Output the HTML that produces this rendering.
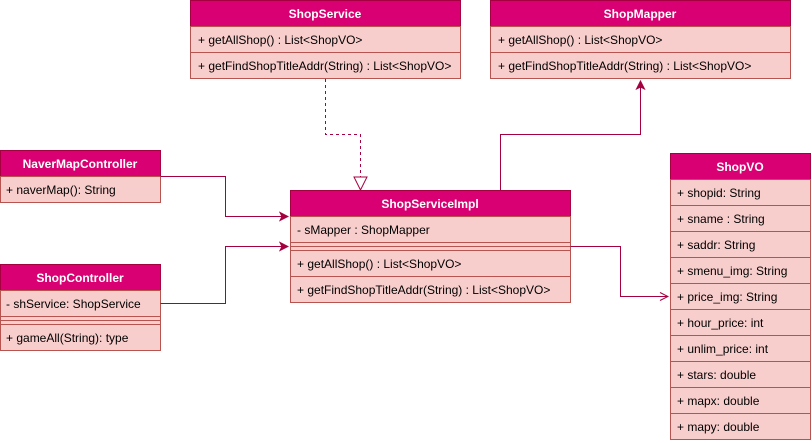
<!DOCTYPE html>
<html><head><meta charset="utf-8"><style>
html,body{margin:0;padding:0;background:#fff;}
svg{display:block;}
text{font-family:"Liberation Sans",Arial,sans-serif;font-size:12px;fill:#000;}
.h{fill:#fff;text-anchor:middle;font-weight:bold;}
</style></head><body>
<svg width="812" height="443" viewBox="0 0 812 443" xmlns="http://www.w3.org/2000/svg">
<defs>
<marker id="a" markerWidth="10" markerHeight="10" refX="9" refY="5" orient="auto" markerUnits="userSpaceOnUse"><path d="M1,1 L9,5 L1,9 L3,5 Z" fill="#A50040" stroke="#A50040"/></marker>
<marker id="o" markerWidth="10" markerHeight="10" refX="9" refY="5" orient="auto" markerUnits="userSpaceOnUse"><path d="M1,1 L9,5 L1,9" fill="none" stroke="#A50040"/></marker>
</defs>
<g stroke="#b85450" stroke-width="1">
<rect x="190.5" y="0.5" width="270" height="26" fill="#d80073" stroke="#A50040"/>
<rect x="190.5" y="26.5" width="270" height="26" fill="#f8cecc"/>
<rect x="190.5" y="52.5" width="270" height="26" fill="#f8cecc"/>
<rect x="490.5" y="0.5" width="300" height="26" fill="#d80073" stroke="#A50040"/>
<rect x="490.5" y="26.5" width="300" height="26" fill="#f8cecc"/>
<rect x="490.5" y="52.5" width="300" height="26" fill="#f8cecc"/>
<rect x="290.5" y="190.5" width="280" height="26" fill="#d80073" stroke="#A50040"/>
<rect x="290.5" y="216.5" width="280" height="26" fill="#f8cecc"/>
<rect x="290.5" y="242.5" width="280" height="8" fill="#f8cecc"/>
<line x1="290.5" y1="246.5" x2="570.5" y2="246.5"/>
<rect x="290.5" y="250.5" width="280" height="26" fill="#f8cecc"/>
<rect x="290.5" y="276.5" width="280" height="26" fill="#f8cecc"/>
<rect x="0.5" y="150.5" width="160" height="26" fill="#d80073" stroke="#A50040"/>
<rect x="0.5" y="176.5" width="160" height="26" fill="#f8cecc"/>
<rect x="0.5" y="264.5" width="160" height="26" fill="#d80073" stroke="#A50040"/>
<rect x="0.5" y="290.5" width="160" height="26" fill="#f8cecc"/>
<rect x="0.5" y="316.5" width="160" height="8" fill="#f8cecc"/>
<line x1="0.5" y1="320.5" x2="160.5" y2="320.5"/>
<rect x="0.5" y="324.5" width="160" height="26" fill="#f8cecc"/>
<rect x="670.5" y="153.5" width="140" height="26" fill="#d80073" stroke="#A50040"/>
<rect x="670.5" y="179.5" width="140" height="26" fill="#f8cecc"/>
<rect x="670.5" y="205.5" width="140" height="26" fill="#f8cecc"/>
<rect x="670.5" y="231.5" width="140" height="26" fill="#f8cecc"/>
<rect x="670.5" y="257.5" width="140" height="26" fill="#f8cecc"/>
<rect x="670.5" y="283.5" width="140" height="26" fill="#f8cecc"/>
<rect x="670.5" y="309.5" width="140" height="26" fill="#f8cecc"/>
<rect x="670.5" y="335.5" width="140" height="26" fill="#f8cecc"/>
<rect x="670.5" y="361.5" width="140" height="26" fill="#f8cecc"/>
<rect x="670.5" y="387.5" width="140" height="26" fill="#f8cecc"/>
<rect x="670.5" y="413.5" width="140" height="26" fill="#f8cecc"/>
</g>
<g fill="none" stroke="#A50040" stroke-width="1">
<path d="M160.5,176.5 H225.5 V216.5 H288" marker-end="url(#a)"/>
<path d="M160.5,303.5 H225.5 V246.5 H288" marker-end="url(#a)"/>
<path d="M325.5,79 V134.5 H360.5 V177" stroke-dasharray="3,3"/>
<path d="M354,177 L367,177 L360.5,190 Z" fill="#fff"/>
<path d="M500.5,190 V134.5 H640.5 V81" marker-end="url(#a)"/>
<path d="M570.5,246.5 H620.5 V296.5 H668" marker-end="url(#o)"/>
</g>
<text class="h" x="325" y="18">ShopService</text>
<text x="198" y="44">+ getAllShop() : List&lt;ShopVO&gt;</text>
<text x="198" y="70">+ getFindShopTitleAddr(String) : List&lt;ShopVO&gt;</text>
<text class="h" x="640" y="18">ShopMapper</text>
<text x="498" y="44">+ getAllShop() : List&lt;ShopVO&gt;</text>
<text x="498" y="70">+ getFindShopTitleAddr(String) : List&lt;ShopVO&gt;</text>
<text class="h" x="430" y="208">ShopServiceImpl</text>
<text x="297" y="234">- sMapper : ShopMapper</text>
<text x="297" y="268">+ getAllShop() : List&lt;ShopVO&gt;</text>
<text x="297" y="294">+ getFindShopTitleAddr(String) : List&lt;ShopVO&gt;</text>
<text class="h" x="80" y="168">NaverMapController</text>
<text x="6" y="194">+ naverMap(): String</text>
<text class="h" x="80" y="282">ShopController</text>
<text x="6" y="308">- shService: ShopService</text>
<text x="6" y="342">+ gameAll(String): type</text>
<text class="h" x="740" y="171">ShopVO</text>
<text x="677" y="197">+ shopid: String</text>
<text x="677" y="223">+ sname : String</text>
<text x="677" y="249">+ saddr: String</text>
<text x="677" y="275">+ smenu_img: String</text>
<text x="677" y="301">+ price_img: String</text>
<text x="677" y="327">+ hour_price: int</text>
<text x="677" y="353">+ unlim_price: int</text>
<text x="677" y="379">+ stars: double</text>
<text x="677" y="405">+ mapx: double</text>
<text x="677" y="431">+ mapy: double</text>
</svg>
</body></html>
